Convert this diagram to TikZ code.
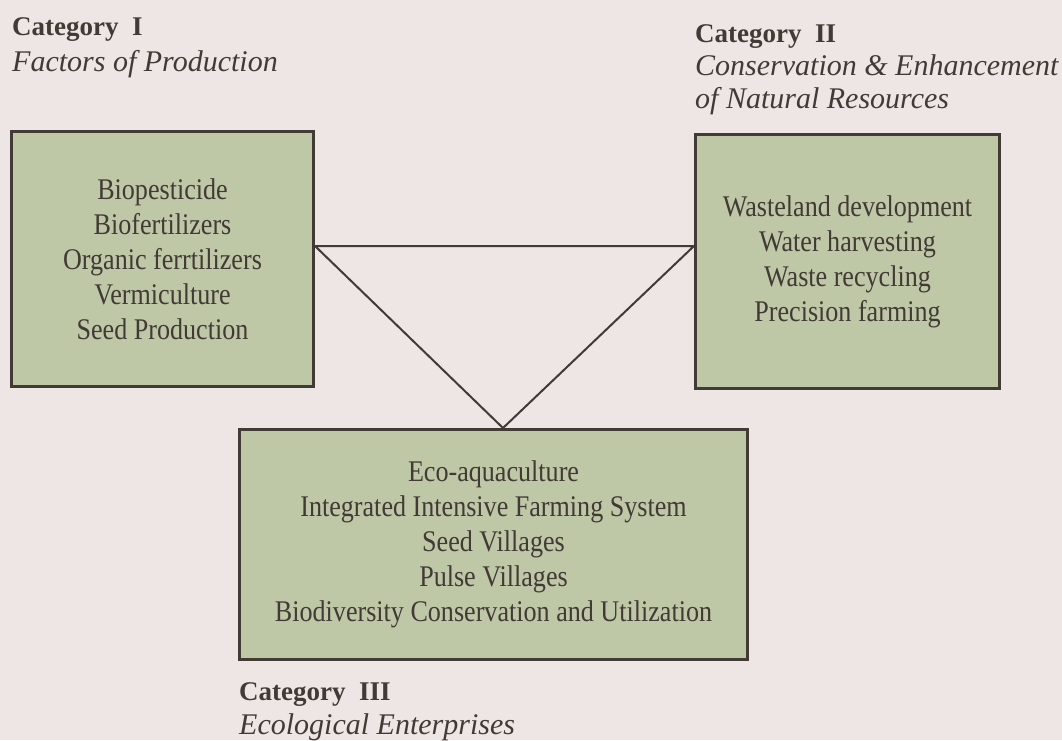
\documentclass[tikz,border=0pt]{standalone}
\usepackage{fontspec}
\setmainfont{Liberation Serif}
\newfontfamily\boxfamily[FakeStretch=0.87]{Liberation Serif}
\definecolor{paper}{RGB}{238,230,228}
\definecolor{sage}{RGB}{190,200,166}
\definecolor{ink}{RGB}{66,58,52}
\begin{document}
\def\cathead#1#2#3{\node[head] (#1) at (#2) {Category\hspace{0.5em}#3};}
\def\catsub#1#2#3{\node[subhead] (#1) at (#2) {#3};}
\def\corner#1#2#3{\coordinate (#1) at ([#3]#2);}

\begin{tikzpicture}[x=1pt, y=-1pt,
    nodes={text=ink, inner sep=0pt},
    box/.style={draw=ink, line width=3pt, fill=sage, align=center,
        font=\boxfamily\fontsize{30}{35}\selectfont},
    head/.style={anchor=base west, font=\fontsize{27}{34}\selectfont\bfseries},
    subhead/.style={anchor=base west, font=\fontsize{30}{34}\selectfont\itshape},
    link/.style={draw=ink, line width=2pt, line join=miter}]
        \fill[paper] (0,0) rectangle (1062,740);
        \useasboundingbox (0,0) rectangle (1062,740);
        \cathead{cat1}{12,35}{I}
        \catsub{cat1sub}{12,71}{Factors of Production}
        \cathead{cat2}{695,42}{II}
        \catsub{cat2sub}{695,75}{Conservation \& Enhancement}
        \catsub{cat2sub2}{695,108}{of Natural Resources}
        \cathead{cat3}{239,700}{III}
        \catsub{cat3sub}{239,734}{Ecological Enterprises}
        \node[box, minimum width=302pt, minimum height=255pt] (factors) at (162.5,259)
            {Biopesticide\\Biofertilizers\\Organic ferrtilizers\\Vermiculture\\Seed Production};
        \node[box, minimum width=304pt, minimum height=254pt] (resources) at (847.5,261.5)
            {Wasteland development\\Water harvesting\\Waste recycling\\Precision farming};
        \node[box, minimum width=508pt, minimum height=230pt] (enterprises) at (493.5,544.5)
            {Eco-aquaculture\\Integrated Intensive Farming System\\Seed Villages\\Pulse Villages\\Biodiversity Conservation and Utilization};
        \corner{lc}{factors.east}{yshift=13pt}
        \corner{rc}{resources.west}{yshift=15.5pt}
        \corner{apex}{enterprises.north}{xshift=9.5pt}
        \draw[link] (lc) -- (rc) -- (apex) -- cycle;
        %\draw[link] (factors) -- (enterprises);
\end{tikzpicture}
\end{document}
